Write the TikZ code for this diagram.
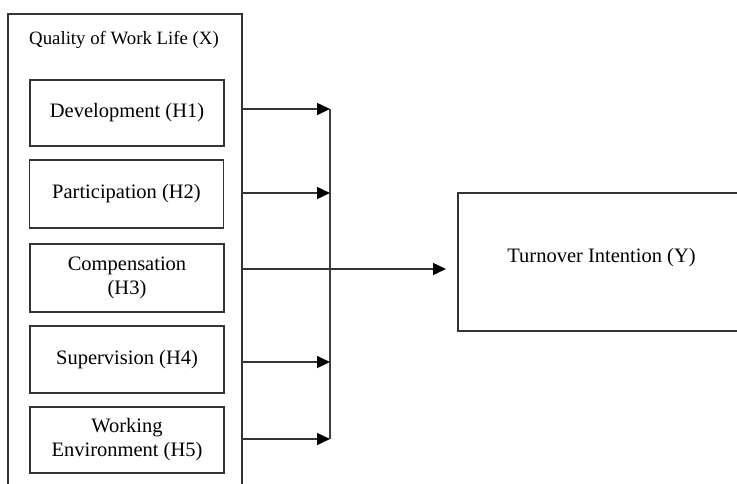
\documentclass[tikz,border=0pt]{standalone}
\usepackage{fontspec}
\setmainfont{Liberation Serif}
\usetikzlibrary{arrows.meta}
\begin{document}
\begin{tikzpicture}[x=1pt,y=-1pt,
  line/.style={draw=black!80,line width=1.6pt},
  sub/.style={line,rectangle,minimum width=194pt,inner sep=0pt,align=center,
    font=\fontsize{20.5}{24}\selectfont},
  arr/.style={draw=black!80,line width=1.4pt,-{Triangle[length=13pt,width=12pt,fill=black,color=black]}}]
\useasboundingbox (0,0) rectangle (737,483);
\clip (0,0) rectangle (737,483);
% outer box (open at the bottom)
\draw[line] (8,495) -- (8,14) -- (242,14) -- (242,495);
\node[font=\fontsize{18.8}{22}\selectfont] (title) at (124,40) {Quality of Work Life (X)};
\node[sub,minimum height=66pt] (h1) at (127,113) {Development (H1)};
\node[sub,minimum height=68pt] (h2) at (126.5,194) {Participation (H2)};
\node[sub,minimum height=68pt] (h3) at (127,278) {Compensation\\(H3)};
\node[sub,minimum height=67pt] (h4) at (127,359.5) {Supervision (H4)};
\node[sub,minimum height=66pt] (h5) at (127,440) {Working\\Environment (H5)};
% right box
\node[line,rectangle,minimum width=287pt,minimum height=138pt,inner sep=0pt,
  text depth=14pt,font=\fontsize{20.5}{23}\selectfont] (y) at (601.5,262) {Turnover Intention (Y)};
% connectors
\coordinate (s1) at (242,109);
\coordinate (s2) at (242,193);
\coordinate (s3) at (242,269);
\coordinate (s4) at (242,362);
\coordinate (s5) at (242,439);
\coordinate (e1) at (330,109);
\coordinate (e2) at (330,193);
\coordinate (e4) at (330,362);
\coordinate (e5) at (330,439);
\coordinate (e3) at (446,269);
\draw[draw=black!75,line width=1.4pt] (e1) -- (e5);
\draw[arr] (s1) -- (e1);
\draw[arr] (s2) -- (e2);
\draw[arr] (s3) -- (e3);
\draw[arr] (s4) -- (e4);
\draw[arr] (s5) -- (e5);
\end{tikzpicture}
\end{document}
